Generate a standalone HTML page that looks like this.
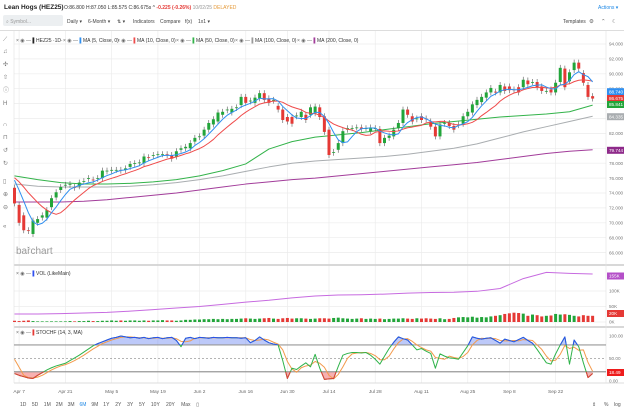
<!DOCTYPE html>
<html><head><meta charset="utf-8"><style>
html,body{margin:0;padding:0;background:#fff;width:624px;height:410px;overflow:hidden;font-family:"Liberation Sans",sans-serif}
svg text{font-family:"Liberation Sans",sans-serif}
</style></head><body>
<svg id="c" width="624" height="410" viewBox="0 0 624 410" xmlns="http://www.w3.org/2000/svg">
<g>
<text x="4" y="9" font-size="6.5" font-weight="bold" fill="#222">Lean Hogs (HEZ25)</text>
<text x="64" y="9" font-size="5" fill="#333">O:86.800 H:87.050 L:85.575 C:86.675s ^ <tspan fill="#e53935" font-weight="bold">-0.225 (-0.26%)</tspan> <tspan fill="#999">10/02/25</tspan> <tspan fill="#e59a3a">DELAYED</tspan></text>
<text x="598" y="9" font-size="5" fill="#1e88e5">Actions ▾</text>
<rect x="3" y="15" width="60" height="11" rx="2" fill="#eceff1"/>
<text x="6" y="23" font-size="5" fill="#999">⌕ Symbol...</text>
<text x="67" y="23" font-size="5" fill="#444">Daily ▾</text>
<text x="88" y="23" font-size="5" fill="#444">6-Month ▾</text>
<text x="117" y="23" font-size="5" fill="#444">⇅ ▾</text>
<text x="133" y="23" font-size="5" fill="#444">Indicators</text>
<text x="160" y="23" font-size="5" fill="#444">Compare</text>
<text x="185" y="23" font-size="5" fill="#444">f(x)</text>
<text x="198" y="23" font-size="5" fill="#444">1x1 ▾</text>
<text x="563" y="23" font-size="5" fill="#444">Templates</text>
<text x="589" y="23" font-size="5.5" fill="#666">⚙</text>
<text x="601" y="23" font-size="5.5" fill="#666">⌃</text>
<text x="612" y="23" font-size="5.5" fill="#666">☾</text>
<line x1="0" y1="30.5" x2="624" y2="30.5" stroke="#ddd" stroke-width="1"/>
</g>
<g id="tools"></g>
<g id="grid"></g>
<g id="main"></g>
<g id="vol"></g>
<g id="sto"></g>
<g id="axes"></g>
<g id="legend"></g>
</svg>
<script>
// ---- data ----
const priorCloses = [75.5,76.0,76.5,76.8,77.0,76.7,76.4,76.6,76.3];
const opens = [74.7,72.4,71.0,69.0,68.5,70.0,70.7,70.7,72.1,73.4,74.4,75.0,75.1,74.8,74.9,75.5,75.9,75.8,75.9,76.0,76.9,77.0,77.1,77.1,77.1,77.5,77.9,78.0,78.0,78.8,79.0,79.1,79.2,79.2,79.1,78.9,79.8,80.0,80.0,80.9,81.5,81.7,82.5,83.2,83.6,84.5,85.1,84.8,85.4,85.8,86.9,86.3,86.1,86.7,87.4,86.7,86.4,85.7,85.2,84.2,84.2,84.3,84.2,84.5,84.5,84.7,85.5,84.3,82.5,79.4,79.8,80.7,82.5,82.7,82.8,82.8,82.7,82.3,82.7,82.6,80.7,81.4,81.6,82.7,83.4,85.2,84.3,83.9,84.3,84.0,83.6,82.9,81.6,83.3,83.4,83.0,83.1,83.3,84.3,84.8,85.8,86.2,86.8,87.5,87.6,87.5,88.3,88.3,87.9,88.2,88.2,89.1,88.9,88.9,88.3,87.7,87.9,87.5,88.9,90.7,89.0,90.5,91.5,90.1,88.5,87.0];
const closes = [72.6,70.0,69.0,68.9,70.3,70.5,71.0,71.7,73.3,74.1,74.8,75.1,75.2,74.7,75.4,75.6,76.0,75.7,76.0,77.0,77.0,77.1,77.1,77.0,77.3,77.9,78.0,78.1,78.9,78.7,79.1,79.2,79.2,79.1,78.6,79.6,80.0,80.2,80.7,81.4,81.6,82.5,83.4,83.9,84.8,84.9,85.2,85.3,85.5,86.9,86.1,86.4,86.8,87.4,86.5,86.1,86.5,85.2,83.8,83.6,83.3,84.4,84.9,83.8,85.5,85.6,84.2,82.2,79.1,79.5,80.7,82.3,82.7,82.7,82.8,82.6,82.7,82.8,82.7,80.7,81.4,81.7,82.5,83.4,85.2,84.5,83.6,84.0,83.8,83.9,82.9,81.6,83.2,83.4,83.0,82.5,83.2,84.3,84.9,85.9,86.5,86.9,87.5,88.1,87.5,88.5,87.7,87.8,87.8,87.5,89.2,88.6,88.9,88.2,87.7,87.7,87.5,88.8,90.8,88.2,90.2,91.5,90.7,88.8,86.9,86.675];
const ma50 = [76.3,75.8,75.4,75.2,75.2,75.3,75.5,75.8,76.3,77.0,77.9,79.9,80.9,81.5,81.8,82.1,82.5,82.9,83.3,83.6,83.9,84.2,84.4,84.6,84.9,85.8];
const ma100 = [75.2,74.9,74.8,74.8,74.8,74.9,75.1,75.4,75.8,76.3,76.9,77.5,78.0,78.3,78.5,78.7,78.9,79.2,79.6,80.0,80.6,81.4,82.2,82.9,83.6,84.3];
const ma200 = [72.8,72.8,72.8,72.9,73.1,73.4,73.7,74.0,74.4,74.8,75.2,75.5,75.8,76.0,76.3,76.6,76.9,77.2,77.5,77.8,78.1,78.5,78.9,79.3,79.6,79.8];
const volumes = [4,3,4,5,3,2,2,2,2,2,2,2,3,2,3,3,4,3,3,4,4,5,4,5,4,5,5,4,5,4,5,5,6,5,5,4,5,7,7,8,8,9,9,10,9,10,9,10,10,11,12,11,10,11,12,13,11,10,12,13,11,12,12,11,10,11,12,12,11,13,14,12,11,10,11,12,10,11,10,11,9,10,11,11,12,11,10,12,11,12,11,10,12,9,10,13,15,16,15,17,14,16,15,18,20,22,26,28,30,29,27,20,24,22,18,20,21,26,24,25,23,20,18,22,20,20];
const openInterest = [26,26,27,29,31,35,40,45,50,57,64,70,78,84,87,88,90,93,95,96,99,108,140,160,157,155];
const stochK = [16,12,9,6,5,12,18,24,29,33,36,39,45,51,57,64,71,78,83,87,91,95,97,100,98,96,97,95,97,94,96,97,94,96,97,90,76,95,97,94,97,96,95,97,96,96,97,96,96,95,96,85,90,98,91,85,82,80,45,5,28,25,33,40,31,59,28,3,4,5,32,57,61,63,63,62,63,57,48,37,55,72,86,98,94,91,80,69,72,66,61,28,60,55,51,50,48,63,78,98,95,93,95,96,90,84,93,90,87,92,97,90,84,70,55,40,37,60,80,98,37,91,76,40,7,16];
const stochD = [48,30,12,7,6,8,12,18,24,29,33,36,40,45,51,57,64,71,77,83,87,91,94,97,98,98,97,96,96,95,95,96,95,95,96,94,88,87,89,95,96,96,96,96,96,96,96,96,96,96,96,92,90,91,93,91,86,82,69,43,26,19,29,33,35,43,39,30,12,4,14,31,50,60,62,63,63,61,56,47,47,55,71,85,93,94,88,80,74,69,66,52,50,48,55,52,50,54,63,80,90,95,94,95,94,90,89,89,90,89,92,91,90,80,70,55,44,46,59,79,72,75,68,69,41,21];
const dateTicks = ["Apr 7","Apr 21","May 5","May 19","Jun 2","Jun 16","Jun 30","Jul 14","Jul 28","Aug 11","Aug 25","Sep 8","Sep 22"];
const dateTickBars = [1,11,21,31,40,50,59,68,78,88,98,107,117];
const priceTicks = [94,92,90,88,82,78,76,74,72,70,68,66];
const maLastLabels = ["88.740","86.675","85.841","84.335","79.744"];

// ---- scales ----
const NS="http://www.w3.org/2000/svg";
const X0=14.5, DX=4.625, PL=14, PR=606;
const xs=i=>X0+i*DX;
const yp=p=>44+(94-p)*7.45;
const yv=v=>322-v*0.31;
const ys=s=>380.7-s*0.447;
function mk(tag,attrs,parent){const e=document.createElementNS(NS,tag);for(const k in attrs)e.setAttribute(k,attrs[k]);parent.appendChild(e);return e;}
const G=id=>document.getElementById(id);

// ---- grid ----
const grid=G('grid');
for(let p=94;p>=66;p-=2){const l=mk('line',{x1:PL,x2:PR,y1:yp(p),y2:yp(p),stroke:'#ececec','stroke-width':0.7},grid);

}
dateTickBars.forEach(b=>{const l=mk('line',{x1:xs(b),x2:xs(b),y1:31,y2:383,stroke:'#ececec','stroke-width':0.7},grid);

});
[100,50,0].forEach(v=>{const l=mk('line',{x1:PL,x2:PR,y1:yv(v),y2:yv(v),stroke:'#ececec','stroke-width':0.7},grid);

});
[[265,'#ccc',1.5],[327,'#ccc',1.5],[383,'#ddd',1]].forEach(a=>{const l=mk('line',{x1:PL,x2:624,y1:a[0],y2:a[0],stroke:a[1],'stroke-width':a[2]},grid);

});
mk('line',{x1:PR,x2:PR,y1:31,y2:383,stroke:'#e4e4e4','stroke-width':0.7},grid);
mk('line',{x1:PL,x2:PL,y1:31,y2:383,stroke:'#e4e4e4','stroke-width':0.7},grid);

// ---- main price ----
const main=G('main');
const all=priorCloses.concat(closes);
function sma(n){return closes.map((c,i)=>{const j=i+priorCloses.length;let s=0,k=0;for(let q=Math.max(0,j-n+1);q<=j;q++){s+=all[q];k++;}return s/k;});}
function line(vals,xf,yf,color,w,name,parent){const pts=vals.map((v,i)=>xf(i).toFixed(2)+','+yf(v).toFixed(2)).join(' ');
const e=mk('polyline',{points:pts,fill:'none',stroke:color,'stroke-width':w,'stroke-linejoin':'round'},parent);

return e;}
line(ma200,i=>xs(i*5),yp,'#a23c9a',1,'ma200-line',main);
line(ma100,i=>xs(i*5),yp,'#a9adb0',1,'ma100-line',main);
line(ma50,i=>xs(i*5),yp,'#33b34a',1,'ma50-line',main);
closes.forEach((c,i)=>{const o=opens[i];const up=c>=o;const col=up?'#22a53a':'#e53935';
const top=Math.max(o,c),bot=Math.min(o,c);
const w=mk('line',{x1:xs(i),x2:xs(i),y1:yp(top+0.4),y2:yp(bot-0.4),stroke:'#555','stroke-width':0.6},main);


const r=mk('rect',{x:xs(i)-1.5,y:yp(top),width:3,height:Math.max(0.8,yp(bot)-yp(top)),fill:col},main);

});
line(sma(10),xs,yp,'#ef4b4b',1,'ma10-line',main);
line(sma(5),xs,yp,'#2f8ff0',1,'ma5-line',main);
const wm=mk('text',{x:16,y:254,'font-size':10,fill:'#9a9a9a'},main);wm.textContent='barchart';


const ar=mk('text',{x:xs(3)-2,y:248,'font-size':5,fill:'#555'},main);ar.textContent='⌄';



// ---- volume ----
const vol=G('vol');
volumes.forEach((v,i)=>{const up=closes[i]>=opens[i];const r=mk('rect',{x:xs(i)-1.5,y:yv(v),width:3,height:322-yv(v),fill:up?'#22a53a':'#e53935'},vol);

});
line(openInterest,i=>xs(i*5),yv,'#c76be0',1,'open-interest-line',vol);

// ---- stochastic ----
const sto=G('sto');
const defs=mk('defs',{},sto);
const c1=mk('clipPath',{id:'hi'},defs);mk('rect',{x:0,y:0,width:624,height:ys(80)},c1);
const c2=mk('clipPath',{id:'lo'},defs);mk('rect',{x:0,y:ys(20),width:624,height:100},c2);
const kp=stochK.map((v,i)=>xs(i).toFixed(2)+','+ys(v).toFixed(2)).join(' ');
const fh=mk('polygon',{points:xs(0)+','+ys(80)+' '+kp+' '+xs(stochK.length-1)+','+ys(80),fill:'rgba(90,120,240,0.4)','clip-path':'url(#hi)'},sto);


const fl=mk('polygon',{points:xs(0)+','+ys(20)+' '+kp+' '+xs(stochK.length-1)+','+ys(20),fill:'rgba(240,80,80,0.45)','clip-path':'url(#lo)'},sto);


[[80,'#999',1.2,''],[20,'#999',1.2,''],[50,'#888',0.6,'2,2']].forEach(a=>{const l=mk('line',{x1:PL,x2:PR,y1:ys(a[0]),y2:ys(a[0]),stroke:a[1],'stroke-width':a[2],'stroke-dasharray':a[3]},sto);

});
line(stochD,xs,ys,'#f39a4c',1,'stoch-d-line',sto);
line(stochK,xs,ys,'#2fb34a',1,'stoch-k-line',sto);
line(stochK,xs,ys,'#2b4ff0',1,'stoch-k-overbought',sto).setAttribute('clip-path','url(#hi)');
line(stochK,xs,ys,'#e53935',1,'stoch-k-oversold',sto).setAttribute('clip-path','url(#lo)');

// ---- axes labels ----
const ax=G('axes');
function txt(x,y,s,size,col,name,inter,anchor){const t=mk('text',{x:x,y:y,'font-size':size,fill:col,'text-anchor':anchor||'start'},ax);t.textContent=s;

return t;}
priceTicks.forEach(p=>txt(609,yp(p)+1.7,p.toFixed(3),4.6,'#777','price-tick-label','false'));
function box(y,s,col,name){const r=mk('rect',{x:607,y:y-3.5,width:17,height:7,fill:col},ax);


txt(609,y+1.7,s,4.6,'#fff',name,'false');}
box(91.7,maLastLabels[0],'#2f8ff0','ma5-last-label');
box(98.5,maLastLabels[1],'#e53935','last-price-label');
box(104.5,maLastLabels[2],'#22a53a','ma50-last-label');
box(116.7,maLastLabels[3],'#a9adb0','ma100-last-label');
box(150.3,maLastLabels[4],'#8e2a8a','ma200-last-label');
txt(609,yv(100)+1.7,'100K',4.6,'#777','volume-tick-label','false');
txt(609,yv(50)+1.7,'50K',4.6,'#777','volume-tick-label','false');
txt(609,yv(0)+1.7,'0K',4.6,'#777','volume-tick-label','false');
box(276,'155K','#b44fc8','open-interest-last-label');
box(313.5,'20K','#e53935','volume-last-label');
txt(609,ys(100)+1.7,'100.00',4.6,'#777','stoch-tick-label','false');
txt(609,ys(50)+1.7,'50.00',4.6,'#777','stoch-tick-label','false');
txt(609,ys(0)+1.7,'0.00',4.6,'#777','stoch-tick-label','false');
box(372.5,'18.49','#ee1c1c','stoch-last-label');
dateTicks.forEach((d,i)=>txt(xs(dateTickBars[i]),393,d,4.8,'#666','date-tick-label','false','middle'));
const ranges=["1D","5D","1M","2M","3M","6M","9M","1Y","2Y","3Y","5Y","10Y","20Y","Max"];
let rx=20;ranges.forEach(r=>{txt(rx,406,r,5,r==='6M'?'#1e88e5':'#555','range-button-'+r.toLowerCase(),'true');rx+=r.length*3.2+5.5;});
txt(rx,406,'▯',5,'#555','calendar-button','true');
txt(592,406,'⇕',5,'#555','scale-button','true');
txt(604,406,'%',5,'#555','percent-scale-button','true');
txt(614,406,'log',5,'#555','log-scale-button','true');

// ---- legends ----
const lg=G('legend');
function leg(x,y,s,col,name){const t=mk('text',{x:x,y:y,'font-size':5,fill:'#333'},lg);


const a=mk('tspan',{fill:'#666'},t);a.textContent='× ◉ — ';
const b=mk('tspan',{fill:col,'font-weight':'bold'},t);b.textContent='▌';
const c=mk('tspan',{},t);c.textContent=s;}
leg(16,42,'HEZ25 ·1D·','#222','legend-hez25');
leg(63,42,'MA (5, Close, 0)','#2f8ff0','legend-ma5');
leg(117,42,'MA (10, Close, 0)','#ef4b4b','legend-ma10');
leg(176,42,'MA (50, Close, 0)','#33b34a','legend-ma50');
leg(235,42,'MA (100, Close, 0)','#999','legend-ma100');
leg(297,42,'MA (200, Close, 0)','#a23c9a','legend-ma200');
leg(16,275,'VOL (LikeMain)','#2f4ff0','legend-volume');
leg(16,334,'STOCHF (14, 3, MA)','#e53935','legend-stochastic');

// ---- left toolbar ----
const tl=G('tools');
const icons=[['⟋',41],['♫',53],['✣',66],['⇧',79],['ⓘ',92],['H',105],['∩',126],['⊓',139],['↺',152],['↻',165],['▯',183],['⊕',196],['⊖',209],['«',228]];
icons.forEach(a=>{const t=mk('text',{x:3,y:a[1],'font-size':6,fill:'#777'},tl);t.textContent=a[0];

});
</script>
</body></html>
